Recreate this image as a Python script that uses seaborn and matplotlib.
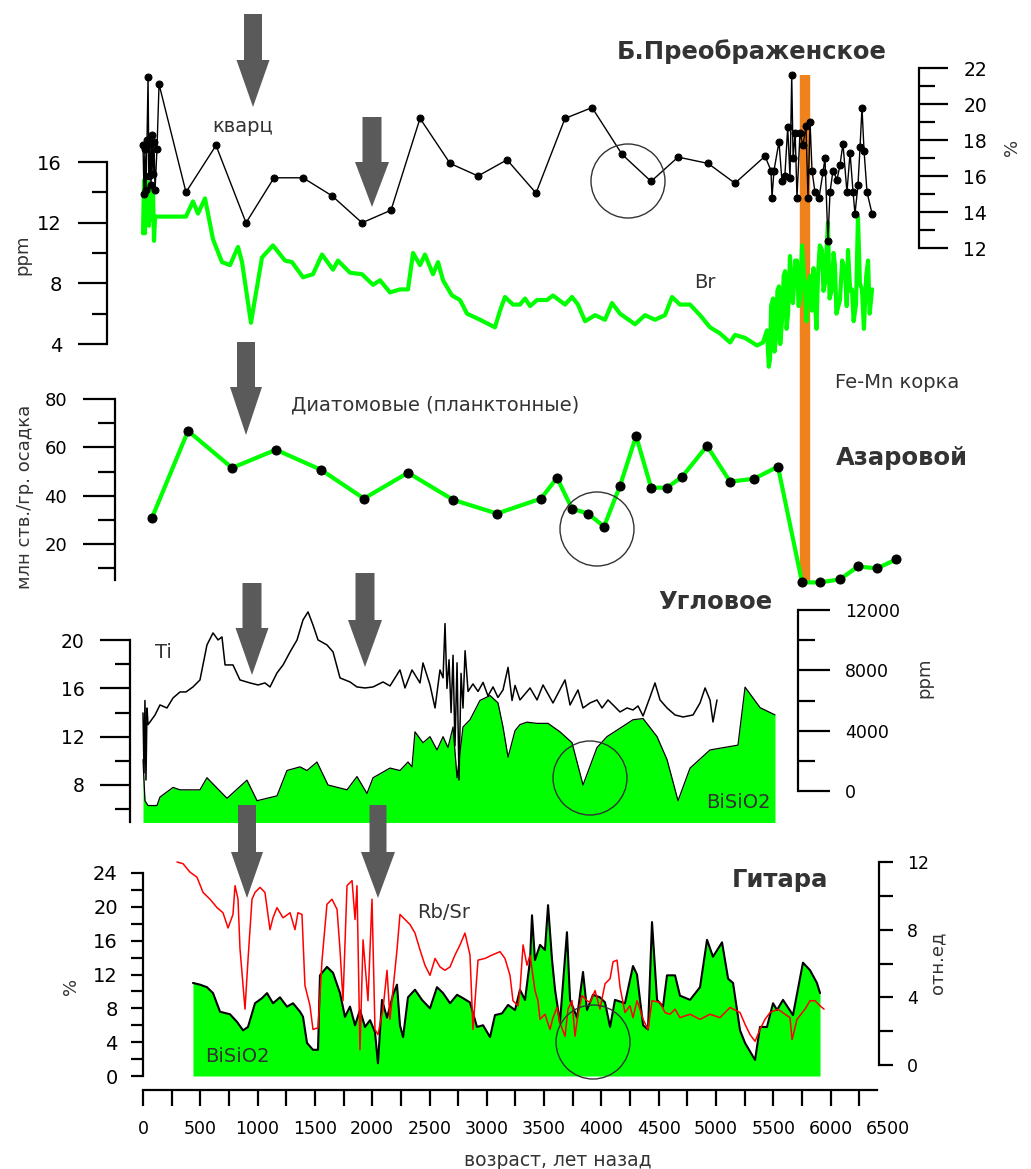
import matplotlib
matplotlib.use("Agg")
import matplotlib.pyplot as plt
import seaborn as sns
from matplotlib.patches import Polygon, Circle

# ---------------- данные (возраст, лет назад) ----------------
# Б.Преображенское: кварц, %  (правая ось)
qz_age = [0, 9, 17, 26, 35, 44, 52, 61, 70, 78, 87, 96, 105, 122, 140, 375, 637, 899, 1143, 1396,
          1649, 1911, 2164, 2417, 2679, 2923, 3176, 3429, 3682, 3918, 4180, 4433, 4668, 4930, 5165,
          5427, 5479, 5488, 5505, 5549, 5575, 5600, 5625, 5645, 5660, 5672, 5690, 5706, 5732, 5758,
          5784, 5802, 5820, 5837, 5863, 5898, 5933, 5950, 5976, 5994, 6020, 6055, 6081, 6107, 6142,
          6169, 6195, 6212, 6238, 6256, 6273, 6291, 6317, 6361]
qz_pct = [17.7, 15.0, 17.5, 15.2, 18.0, 21.5, 16.0, 17.8, 15.5, 18.3, 16.1, 17.9, 15.2, 17.5, 21.1,
          15.1, 17.7, 13.4, 15.9, 15.9, 14.9, 13.4, 14.1, 19.2, 16.7, 16.0, 16.9, 15.05, 19.2, 19.8,
          17.2, 15.7, 17.05, 16.7, 15.6, 17.1, 16.3, 14.8, 16.3, 17.9, 15.7, 16.0, 18.7, 15.9, 21.6,
          17.0, 18.4, 14.8, 18.4, 17.7, 18.8, 14.8, 19.0, 16.3, 15.1, 14.8, 16.2, 17.0, 12.4, 15.1,
          16.3, 15.8, 16.6, 17.8, 15.1, 17.3, 15.1, 13.9, 15.5, 17.6, 19.8, 17.4, 15.1, 13.9]

# Б.Преображенское: Br, ppm (левая ось)
br_age = [0, 9, 17, 26, 35, 44, 52, 61, 70, 87, 96, 105, 375, 436, 480, 541, 611, 689, 759, 829,
          864, 942, 1038, 1134, 1239, 1300, 1396, 1483, 1562, 1658, 1701, 1806, 1911, 2007, 2068,
          2155, 2242, 2312, 2356, 2417, 2460, 2530, 2574, 2618, 2696, 2766, 2827, 2940, 3071, 3115,
          3158, 3228, 3289, 3333, 3377, 3438, 3525, 3577, 3682, 3743, 3795, 3857, 3944, 4031, 4092,
          4162, 4293, 4380, 4467, 4554, 4616, 4685, 4773, 4860, 4947, 5034, 5122, 5165, 5253, 5357,
          5409, 5444, 5460, 5471, 5480, 5497, 5510, 5523, 5535, 5549, 5560, 5575, 5590, 5602, 5615,
          5628, 5645, 5660, 5671, 5690, 5706, 5720, 5732, 5750, 5776, 5790, 5802, 5820, 5837, 5850,
          5863, 5876, 5889, 5905, 5924, 5937, 5950, 5976, 5990, 6011, 6025, 6037, 6050, 6081, 6100,
          6125, 6140, 6151, 6170, 6186, 6200, 6221, 6238, 6255, 6273, 6290, 6310, 6326, 6340, 6361]
br_ppm = [11.3, 14.8, 11.3, 14.9, 12.5, 14.6, 11.8, 14.6, 12.2, 14.2, 10.8, 12.4, 12.4, 13.4, 12.6,
          13.6, 10.9, 9.4, 9.2, 10.4, 9.4, 5.4, 9.7, 10.5, 9.5, 9.4, 8.4, 8.6, 9.9, 8.9, 9.5, 8.7,
          8.6, 7.9, 8.2, 7.4, 7.6, 7.6, 10.0, 9.2, 9.9, 8.6, 9.4, 8.2, 7.2, 6.9, 6.0, 5.6, 5.1, 6.2,
          7.1, 6.6, 6.6, 7.0, 6.5, 6.9, 6.9, 7.2, 6.6, 7.1, 6.6, 5.5, 5.9, 5.6, 6.7, 6.0, 5.3, 5.9,
          5.6, 5.9, 7.1, 6.6, 6.6, 5.9, 5.1, 4.7, 4.1, 4.6, 4.4, 3.9, 4.1, 4.9, 2.5, 3.0, 6.5, 7.0,
          3.5, 4.4, 7.5, 7.8, 4.0, 5.5, 8.5, 8.8, 5.0, 6.0, 9.8, 7.0, 6.7, 9.5, 9.5, 6.5, 7.0, 10.5,
          7.3, 5.5, 7.9, 8.5, 6.2, 9.0, 6.9, 5.0, 8.5, 10.5, 10.2, 7.5, 8.0, 12.0, 7.0, 7.6, 10.0,
          9.2, 6.0, 6.9, 9.5, 8.8, 6.5, 10.2, 7.5, 7.6, 5.5, 6.6, 12.4, 8.0, 7.6, 5.0, 8.5, 9.5,
          6.0, 7.6]

# Азаровой: диатомовые (планктонные), млн ств./гр. осадка
diat_age = [79, 393, 777, 1160, 1553, 1928, 2312, 2705, 3089, 3473, 3612, 3743, 3883, 4022, 4162,
            4302, 4433, 4572, 4703, 4921, 5122, 5331, 5540, 5750, 5907, 6081, 6238, 6404, 6570]
diat_val = [30.9, 66.8, 51.5, 59.0, 50.7, 38.8, 49.5, 38.3, 32.6, 38.8, 47.4, 34.6, 32.6, 27.2,
            44.1, 64.7, 43.3, 43.3, 47.8, 60.6, 45.8, 47.0, 52.0, 4.1, 4.1, 5.4, 10.7, 9.9, 13.6]

# Угловое: Ti, ppm (правая ось)
ti_age = [0, 9, 17, 26, 35, 44, 61, 105, 148, 209, 262, 323, 375, 436, 497, 558, 611, 655, 689,
          716, 785, 846, 934, 1004, 1064, 1108, 1169, 1222, 1283, 1344, 1396, 1440, 1483, 1527,
          1605, 1658, 1719, 1806, 1867, 1937, 2007, 2094, 2155, 2242, 2286, 2347, 2417, 2443,
          2504, 2548, 2591, 2618, 2635, 2652, 2670, 2688, 2705, 2722, 2740, 2757, 2775, 2792,
          2810, 2836, 2879, 2923, 2967, 3010, 3054, 3097, 3141, 3185, 3220, 3246, 3289, 3377,
          3438, 3490, 3577, 3682, 3726, 3795, 3839, 3900, 3961, 4005, 4057, 4101, 4162, 4223,
          4275, 4319, 4363, 4424, 4467, 4511, 4572, 4642, 4712, 4799, 4860, 4904, 4947, 4973, 5008]
ti_ppm = [5174, 1200, 6000, 730, 5500, 4400, 4577, 5041, 5704, 5505, 6169, 6567, 6567, 6898, 7363,
          9684, 10480, 10016, 10215, 8358, 8358, 7363, 7164, 7031, 7164, 6898, 7827, 8358, 9220,
          10016, 11342, 11873, 11011, 10016, 9684, 9220, 7495, 7230, 6898, 6832, 6898, 7230, 6965,
          8026, 6832, 8026, 7164, 8490, 7031, 5505, 8026, 7500, 11100, 6800, 8700, 5200, 9000,
          3000, 8500, 730, 7800, 5500, 9300, 6600, 7100, 6600, 7200, 6300, 6900, 6200, 6700, 8200,
          6000, 7000, 6036, 6832, 6036, 7031, 5837, 7363, 5704, 6700, 5505, 5837, 6036, 5505, 6036,
          5704, 5240, 5505, 5373, 5638, 4975, 6235, 7164, 6036, 5505, 5041, 4908, 5041, 5837, 6832,
          6036, 4577, 6036]

# Угловое: BiSiO2, % (левая ось)
bs3_age = [0, 17, 44, 122, 148, 262, 323, 497, 558, 733, 907, 995, 1169, 1256, 1370, 1431, 1518,
           1614, 1780, 1867, 1954, 2007, 2155, 2242, 2312, 2347, 2373, 2443, 2504, 2565, 2618,
           2661, 2705, 2740, 2792, 2853, 2940, 3028, 3097, 3141, 3185, 3246, 3289, 3350, 3438,
           3534, 3638, 3743, 3839, 3961, 4048, 4162, 4275, 4363, 4485, 4572, 4668, 4773, 4947,
           5191, 5253, 5384, 5514]
bs3_pct = [10.1, 6.7, 6.3, 6.3, 7.0, 7.8, 7.6, 7.6, 8.6, 6.9, 8.4, 6.7, 7.1, 9.2, 9.5, 9.2, 9.9,
           8.0, 7.6, 8.7, 7.3, 8.6, 9.4, 9.2, 9.9, 9.5, 12.4, 11.5, 12.0, 10.9, 12.0, 11.1, 12.8,
           8.6, 12.8, 13.4, 15.0, 15.4, 14.8, 12.8, 10.3, 12.5, 13.0, 13.2, 13.1, 13.1, 12.4, 11.5,
           8.0, 11.1, 12.0, 12.7, 13.4, 13.5, 12.0, 10.1, 6.7, 9.4, 10.9, 11.3, 16.1, 14.4, 13.8]
bs3_base = 4.9

# Гитара: BiSiO2, % (левая ось)
bs4_age = [436, 497, 558, 611, 672, 759, 820, 873, 916, 977, 1038, 1082, 1134, 1195, 1256, 1309,
           1370, 1396, 1431, 1483, 1527, 1544, 1605, 1658, 1719, 1762, 1806, 1850, 1893, 1937,
           1981, 2024, 2050, 2085, 2129, 2181, 2216, 2242, 2269, 2312, 2373, 2434, 2504, 2565,
           2618, 2679, 2740, 2792, 2853, 2914, 2967, 3028, 3071, 3132, 3185, 3246, 3289, 3333,
           3377, 3394, 3420, 3464, 3507, 3534, 3569, 3595, 3638, 3699, 3726, 3787, 3839, 3874,
           3926, 3987, 4031, 4075, 4118, 4205, 4275, 4310, 4363, 4406, 4441, 4485, 4537, 4572,
           4642, 4685, 4773, 4860, 4921, 4973, 5052, 5105, 5148, 5209, 5253, 5340, 5383, 5444,
           5497, 5532, 5584, 5671, 5758, 5820, 5880, 5907]
bs4_pct = [11.0, 10.8, 10.5, 9.8, 7.6, 7.3, 6.4, 5.4, 5.8, 8.6, 9.2, 9.8, 8.6, 9.3, 8.2, 8.6, 7.6,
           7.0, 3.9, 3.1, 3.1, 11.9, 12.9, 12.2, 9.8, 7.0, 8.2, 6.0, 7.8, 5.8, 6.6, 5.2, 1.5, 9.0,
           6.9, 9.6, 10.8, 6.0, 4.6, 9.3, 10.2, 9.0, 8.0, 10.5, 9.8, 8.6, 9.6, 9.2, 8.7, 5.8, 6.0,
           4.6, 7.2, 7.4, 8.4, 7.8, 10.2, 9.0, 13.7, 19.0, 13.7, 15.5, 14.9, 20.2, 13.7, 10.2, 6.3,
           17.0, 9.0, 6.9, 12.3, 7.8, 9.6, 9.3, 8.7, 5.8, 9.0, 8.6, 13.0, 12.0, 6.0, 5.5, 18.2,
           9.0, 8.2, 11.9, 11.9, 9.5, 9.0, 10.5, 16.1, 14.1, 15.8, 11.5, 11.0, 5.4, 3.9, 1.9, 5.8,
           5.8, 8.6, 7.8, 9.0, 7.2, 13.4, 12.5, 11.0, 9.8]

# Гитара: Rb/Sr, отн.ед (правая ось)
rb_age = [297, 349, 410, 471, 524, 585, 646, 698, 742, 785, 803, 829, 846, 890, 916, 951, 977,
          1021, 1064, 1108, 1134, 1169, 1222, 1283, 1326, 1352, 1387, 1413, 1457, 1483, 1527,
          1562, 1605, 1649, 1693, 1719, 1745, 1780, 1824, 1850, 1867, 1893, 1920, 1963, 1998,
          2024, 2050, 2094, 2129, 2155, 2216, 2242, 2286, 2330, 2373, 2417, 2460, 2504, 2548,
          2591, 2635, 2679, 2722, 2766, 2809, 2853, 2879, 2923, 2984, 3045, 3115, 3158, 3202,
          3228, 3272, 3289, 3316, 3350, 3377, 3420, 3446, 3464, 3507, 3551, 3577, 3612, 3638,
          3682, 3708, 3743, 3769, 3795, 3830, 3874, 3900, 3944, 3987, 4031, 4075, 4101, 4136,
          4162, 4205, 4249, 4275, 4310, 4336, 4363, 4406, 4441, 4511, 4554, 4598, 4642, 4685,
          4773, 4860, 4947, 5034, 5122, 5209, 5253, 5296, 5340, 5383, 5427, 5471, 5540, 5601,
          5645, 5663, 5706, 5776, 5820, 5863, 5907, 5942]
rb_val = [12.0, 11.9, 11.4, 11.1, 10.2, 9.8, 9.3, 9.0, 8.1, 8.9, 10.6, 9.8, 6.9, 3.3, 6.2, 9.8,
          10.2, 10.5, 10.2, 8.0, 8.7, 9.3, 8.7, 9.0, 8.0, 9.0, 8.9, 4.7, 3.5, 2.1, 2.2, 6.2, 9.5,
          9.8, 9.2, 6.8, 3.8, 10.6, 10.9, 8.6, 10.6, 0.9, 7.4, 3.8, 9.8, 2.1, 1.8, 3.3, 5.6, 2.7,
          6.8, 8.9, 8.6, 8.3, 7.8, 6.8, 5.9, 5.3, 6.3, 5.8, 5.6, 5.8, 6.5, 7.1, 7.8, 6.5, 2.1, 6.2,
          6.3, 6.5, 6.7, 6.3, 5.3, 3.8, 3.5, 4.4, 7.1, 5.9, 6.5, 4.4, 3.8, 2.7, 3.0, 2.1, 2.8, 3.4,
          2.5, 1.7, 3.3, 3.8, 1.7, 3.0, 4.1, 3.8, 3.7, 4.4, 3.3, 4.8, 5.1, 6.1, 6.2, 4.6, 3.1, 3.5,
          2.8, 3.8, 3.3, 2.7, 2.1, 3.8, 3.7, 3.1, 3.0, 3.3, 2.8, 3.0, 2.7, 3.0, 2.8, 3.4, 3.1, 2.4,
          1.8, 1.4, 2.1, 2.7, 3.1, 3.3, 3.0, 2.8, 1.5, 2.7, 3.3, 3.8, 3.8, 3.5, 3.3]

FE_MN_AGE = 5776          # Fe-Mn корка
age_major = list(range(0, 6501, 500))
age_minor = list(range(250, 6251, 500))

GREEN = "#00ff00"
ORANGE = "#f0821e"
ARROW = "#5a5a5a"
TXT = "#333333"

# ---------------- разметка ----------------
W, H = 1031, 1169
X0, K = 143, 745 / 6500          # пиксель нулевого возраста, пикселей на год
XLIM = (-X0 / K, (W - X0) / K)

sns.set_style("ticks")
plt.rcParams["font.family"] = ["DejaVu Sans"]

fig = plt.figure(figsize=(W / 100, H / 100), dpi=100)
fig.patch.set_facecolor("white")


def band(top, bot, z=1):
    ax = fig.add_axes([0, 1 - bot / H, 1, (bot - top) / H], zorder=z)
    ax.set_xlim(*XLIM)
    ax.patch.set_visible(False)
    return ax


def fit_y(ax, top, bot, v1, p1, v2, p2):
    k = (v2 - v1) / (p2 - p1)
    ax.set_ylim(v1 + (bot - p1) * k, v1 + (top - p1) * k)


def yaxis(ax, side, px, lo, hi, major, minor, maj_len, min_len, size, pad):
    for s in ax.spines.values():
        s.set_visible(False)
    sp = ax.spines[side]
    sp.set_visible(True)
    sp.set_position(("axes", px / W))
    sp.set_bounds(lo, hi)
    sp.set_linewidth(1.6)
    sp.set_color("black")
    ax.set_yticks(list(major))
    ax.set_yticks(list(minor), minor=True)
    left = side == "left"
    ax.tick_params(axis="y", which="both", left=left, right=not left,
                   labelleft=left, labelright=not left, direction="out",
                   width=1.6, color="black", labelcolor="black")
    ax.tick_params(axis="y", which="major", length=maj_len * 0.72, labelsize=size, pad=pad)
    ax.tick_params(axis="y", which="minor", length=min_len * 0.72)
    ax.xaxis.set_visible(False)


def twin(ax):
    t = ax.twinx()
    t.set_zorder(ax.get_zorder() + 0.1)
    t.patch.set_visible(False)
    return t


# оранжевая полоса Fe-Mn корки (под панелями)
bar = fig.add_axes([0, 0, 1, 1], zorder=0.5)
bar.set_xlim(*XLIM)
bar.axis("off")
bar.axvline(FE_MN_AGE, ymin=1 - 583 / H, ymax=1 - 75 / H, color=ORANGE, lw=7.5,
            solid_capstyle="butt")

# ---- 1. Б.Преображенское ----
ax1 = band(10, 380)
sns.lineplot(x=br_age, y=br_ppm, ax=ax1, color=GREEN, lw=3, sort=False, estimator=None)
fit_y(ax1, 10, 380, 16, 162, 4, 344)
yaxis(ax1, "left", 107, 4, 16, [4, 8, 12, 16], [6, 10, 14], 29, 15, 14, 11.5)

tw1 = twin(ax1)
sns.lineplot(x=qz_age, y=qz_pct, ax=tw1, color="black", lw=1, marker="o", markersize=5,
             markeredgecolor="black", sort=False, estimator=None)
fit_y(tw1, 10, 380, 22, 68, 12, 248)
yaxis(tw1, "right", 919, 12, 22, range(12, 23, 2), range(13, 22, 2), 29, 16, 13.5, 11)

# ---- 2. Азаровой ----
ax2 = band(380, 600)
sns.lineplot(x=diat_age, y=diat_val, ax=ax2, color=GREEN, lw=3, marker="o", markersize=6.5,
             markerfacecolor="black", markeredgecolor="black", sort=False, estimator=None)
fit_y(ax2, 380, 600, 80, 399, 20, 544)
yaxis(ax2, "left", 115, 5.3, 80, [20, 40, 60, 80], [10, 30, 50, 70], 32, 17, 13, 11.5)

# ---- 3. Угловое ----
ax3 = band(600, 830)
ax3.fill_between(bs3_age, bs3_pct, bs3_base, color=GREEN, lw=0)
sns.lineplot(x=bs3_age, y=bs3_pct, ax=ax3, color="black", lw=0.9, sort=False, estimator=None)
fit_y(ax3, 600, 830, 20, 640, 8, 785)
yaxis(ax3, "left", 130, bs3_base, 20, [8, 12, 16, 20], [6, 10, 14, 18], 30, 15, 13.5, 11)

tw3 = twin(ax3)
sns.lineplot(x=ti_age, y=ti_ppm, ax=tw3, color="black", lw=1.1, sort=False, estimator=None)
fit_y(tw3, 600, 830, 12000, 610, 0, 791)
yaxis(tw3, "right", 798, 0, 12000, [0, 4000, 8000, 12000], [2000, 6000, 10000], 32, 17, 12.5, 11)

# ---- 4. Гитара ----
ax4 = band(830, 1090)
ax4.fill_between(bs4_age, bs4_pct, 0, color=GREEN, lw=0)
sns.lineplot(x=bs4_age, y=bs4_pct, ax=ax4, color="black", lw=1.5, sort=False, estimator=None)
fit_y(ax4, 830, 1090, 24, 873, 0, 1076)
yaxis(ax4, "left", 143, 0, 24, range(0, 25, 4), range(2, 23, 4), 12, 12, 14, 9.5)

ax4.xaxis.set_visible(True)
bot = ax4.spines["bottom"]
bot.set_visible(True)
bot.set_bounds(0, 6400)
bot.set_linewidth(1.6)
bot.set_color("black")
ax4.set_xticks(age_major)
ax4.set_xticklabels([str(a) for a in age_major])
ax4.set_xticks(age_minor, minor=True)
ax4.tick_params(axis="x", which="both", bottom=True, top=False, direction="out",
                length=16 * 0.72, width=1.6, color="black")
ax4.tick_params(axis="x", which="major", labelsize=12.5, pad=10, labelcolor="black")
ax4.xaxis.get_major_ticks()[-1].tick1line.set_visible(False)

tw4 = twin(ax4)
sns.lineplot(x=rb_age, y=rb_val, ax=tw4, color="#ff0000", lw=1.1, sort=False, estimator=None)
fit_y(tw4, 830, 1090, 12, 862, 0, 1065)
yaxis(tw4, "right", 879, 0, 12, [0, 4, 8, 12], [2, 6, 10], 14, 14, 12.5, 10)

# ---------------- аннотации (стрелки, круги, подписи) ----------------
ov = fig.add_axes([0, 0, 1, 1], zorder=10)
ov.set_xlim(0, W)
ov.set_ylim(H, 0)
ov.axis("off")

arrows = [(253, 14, 60, 107, 18, 33), (372, 117, 162, 207, 19, 34), (246, 342, 387, 435, 18, 32),
          (252, 583, 628, 675, 19, 33), (365, 573, 620, 667, 19, 34),
          (247, 805, 852, 898, 18, 32), (378, 805, 852, 898, 17, 34)]
for cx, y0, y1, y2, sw, hw in arrows:
    pts = [(cx - sw / 2, y0), (cx + sw / 2, y0), (cx + sw / 2, y1), (cx + hw / 2, y1),
           (cx, y2), (cx - hw / 2, y1), (cx - sw / 2, y1)]
    ov.add_patch(Polygon(pts, closed=True, color=ARROW, lw=0))

for cx, cy in [(628, 181), (597, 529), (590, 778), (593, 1042)]:
    ov.add_patch(Circle((cx, cy), 37, fill=False, ec=TXT, lw=1))

for s, x, y in [("Б.Преображенское", 752, 52), ("Азаровой", 902, 458),
                ("Угловое", 715, 602), ("Гитара", 780, 880)]:
    ov.text(x, y, s, ha="center", va="center", fontsize=17.5, fontweight="bold", color=TXT)

for s, x, y in [("кварц", 243, 127), ("Br", 705, 282), ("Fe-Mn корка", 897, 382),
                ("Диатомовые (планктонные)", 435, 405), ("Ti", 163, 652),
                ("BiSiO2", 738, 803), ("BiSiO2", 237, 1056), ("Rb/Sr", 444, 913)]:
    ov.text(x, y, s, ha="center", va="center", fontsize=14, color=TXT)

for s, x, y in [("ppm", 22, 255), ("%", 1012, 147), ("млн ств./гр. осадка", 25, 497),
                ("ppm", 924, 678), ("%", 71, 986), ("отн.ед", 937, 963)]:
    ov.text(x, y, s, ha="center", va="center", rotation=90, fontsize=13, color=TXT)

ov.text(558, 1166, "возраст, лет назад", ha="center", va="baseline", fontsize=13.5, color=TXT)

fig.savefig("out.png", dpi=100)
